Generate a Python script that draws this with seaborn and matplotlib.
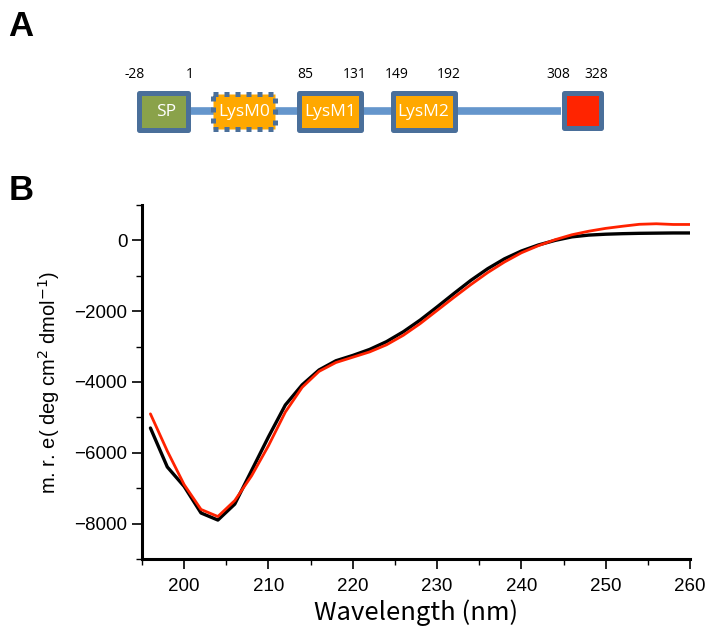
import numpy as np
import pandas as pd
import matplotlib
matplotlib.use("Agg")
import matplotlib.pyplot as plt
from matplotlib.patches import Rectangle
from matplotlib.ticker import MultipleLocator
import seaborn as sns

# ---------------- data ----------------
wavelength = [196, 198, 200, 202, 204, 206, 208, 210, 212, 214, 216, 218, 220,
              222, 224, 226, 228, 230, 232, 234, 236, 238, 240, 242, 244, 246,
              248, 250, 252, 254, 256, 258, 260]
mre_black = [-5300, -6400, -6950, -7700, -7900, -7450, -6500, -5550, -4650, -4080,
             -3660, -3400, -3250, -3080, -2860, -2580, -2250, -1880, -1500, -1130,
             -800, -520, -300, -130, 0, 100, 150, 175, 190, 200, 205, 210, 210]
mre_red = [-4900, -5950, -6900, -7600, -7800, -7350, -6650, -5800, -4850, -4150,
           -3700, -3450, -3300, -3150, -2950, -2680, -2350, -1980, -1610, -1250,
           -910, -610, -350, -150, 20, 160, 260, 340, 400, 455, 470, 450, 450]
series_names = ["black", "red"]

domain_labels = ["SP", "LysM0", "LysM1", "LysM2", ""]
boundary_labels = ["-28", "1", "85", "131", "149", "192", "308", "328"]

df = pd.DataFrame({
    "Wavelength": wavelength * 2,
    "mre": mre_black + mre_red,
    "series": [series_names[0]] * len(wavelength) + [series_names[1]] * len(wavelength),
})

# ---------------- figure ----------------
sns.set_style("white")
plt.rcParams["font.family"] = ["Liberation Sans", "DejaVu Sans"]
plt.rcParams["text.color"] = "black"
plt.rcParams["axes.labelcolor"] = "black"
plt.rcParams["xtick.color"] = "black"
plt.rcParams["ytick.color"] = "black"
W, H = 711, 631
fig = plt.figure(figsize=(W / 100, H / 100), dpi=100)

# overlay axes in pixel coordinates for panel A and letters
ov = fig.add_axes([0, 0, 1, 1])
ov.set_xlim(0, W)
ov.set_ylim(H, 0)
ov.axis("off")

ov.text(8, 26, "A", fontsize=25, fontweight="bold", ha="left", va="center", color="black")
ov.text(9, 191, "B", fontsize=25, fontweight="bold", ha="left", va="center", color="black")

border = "#4A6F9A"
link = "#6596CC"
# backbone line
ov.plot([189, 561], [111, 111], color=link, lw=5.5, solid_capstyle="butt", zorder=1)

boxes = [  # x0, x1, y0, y1, face, dotted
    (138.5, 187.5, 93, 129.5, "#8AA24A", False),
    (213, 275, 94, 129, "#FFA800", True),
    (299, 361, 93, 129.5, "#FFA800", False),
    (392.5, 454.5, 93, 129.5, "#FFA800", False),
    (563.5, 601, 93, 128, "#FF2400", False),
]
for (x0, x1, y0, y1, fc, dotted), lab in zip(boxes, domain_labels):
    r = Rectangle((x0, y0), x1 - x0, y1 - y0, facecolor=fc, edgecolor=border,
                  lw=3.6, linestyle=(0, (1.0, 1.2)) if dotted else "-",
                  joinstyle="round", zorder=2)
    ov.add_patch(r)
    if lab:
        ov.text((x0 + x1) / 2 + (3 if lab == "SP" else 0), (y0 + y1) / 2 + 1, lab,
                color="white", fontsize=12.5, ha="center", va="center",
                family=["Open Sans", "DejaVu Sans"], zorder=3)

label_x = [135, 190, 305, 355, 397, 449, 558, 596]
for lx, lab in zip(label_x, boundary_labels):
    ov.text(lx, 75, lab, fontsize=10, ha="center", va="center", color="black",
            family=["Open Sans", "DejaVu Sans"])

# ---------------- panel B ----------------
ax = fig.add_axes([142 / W, 1 - 559 / H, (690 - 142) / W, (559 - 205) / H])
ax.patch.set_alpha(0)
sns.lineplot(data=df, x="Wavelength", y="mre", hue="series",
             palette={"black": "#000000", "red": "#FF2200"},
             ax=ax, legend=False, estimator=None, sort=False)
lines = ax.get_lines()
lines[0].set_linewidth(2.4)
lines[1].set_linewidth(2.0)
lines[1].set_zorder(3)

ax.set_xlim(195, 260)
ax.set_ylim(-9000, 1000)
ax.xaxis.set_major_locator(MultipleLocator(10))
ax.xaxis.set_minor_locator(MultipleLocator(5))
ax.yaxis.set_minor_locator(MultipleLocator(1000))
ax.set_yticks([-8000, -6000, -4000, -2000, 0])
ax.set_yticklabels(["\u22128000", "\u22126000", "\u22124000", "\u22122000", "0"])

for s in ["top", "right"]:
    ax.spines[s].set_visible(False)
for s in ["left", "bottom"]:
    ax.spines[s].set_linewidth(2.2)
    ax.spines[s].set_color("black")

ax.tick_params(axis="both", which="major", direction="out", length=7, width=1.2,
               labelsize=13.5, color="black", labelcolor="black", bottom=True, left=True)
ax.tick_params(axis="both", which="minor", direction="out", length=4, width=1.0,
               color="black", bottom=True, left=True)
ax.tick_params(axis="x", pad=7)

ax.set_xlabel("Wavelength (nm)", fontsize=18.5,
              family=["Noto Sans CJK JP", "DejaVu Sans"], labelpad=3, color="black")
ax.set_ylabel("m. r. e( deg cm$^2$ dmol$^{-1}$)", fontsize=14.5, labelpad=9, color="black")

fig.savefig("out.png", dpi=100)
